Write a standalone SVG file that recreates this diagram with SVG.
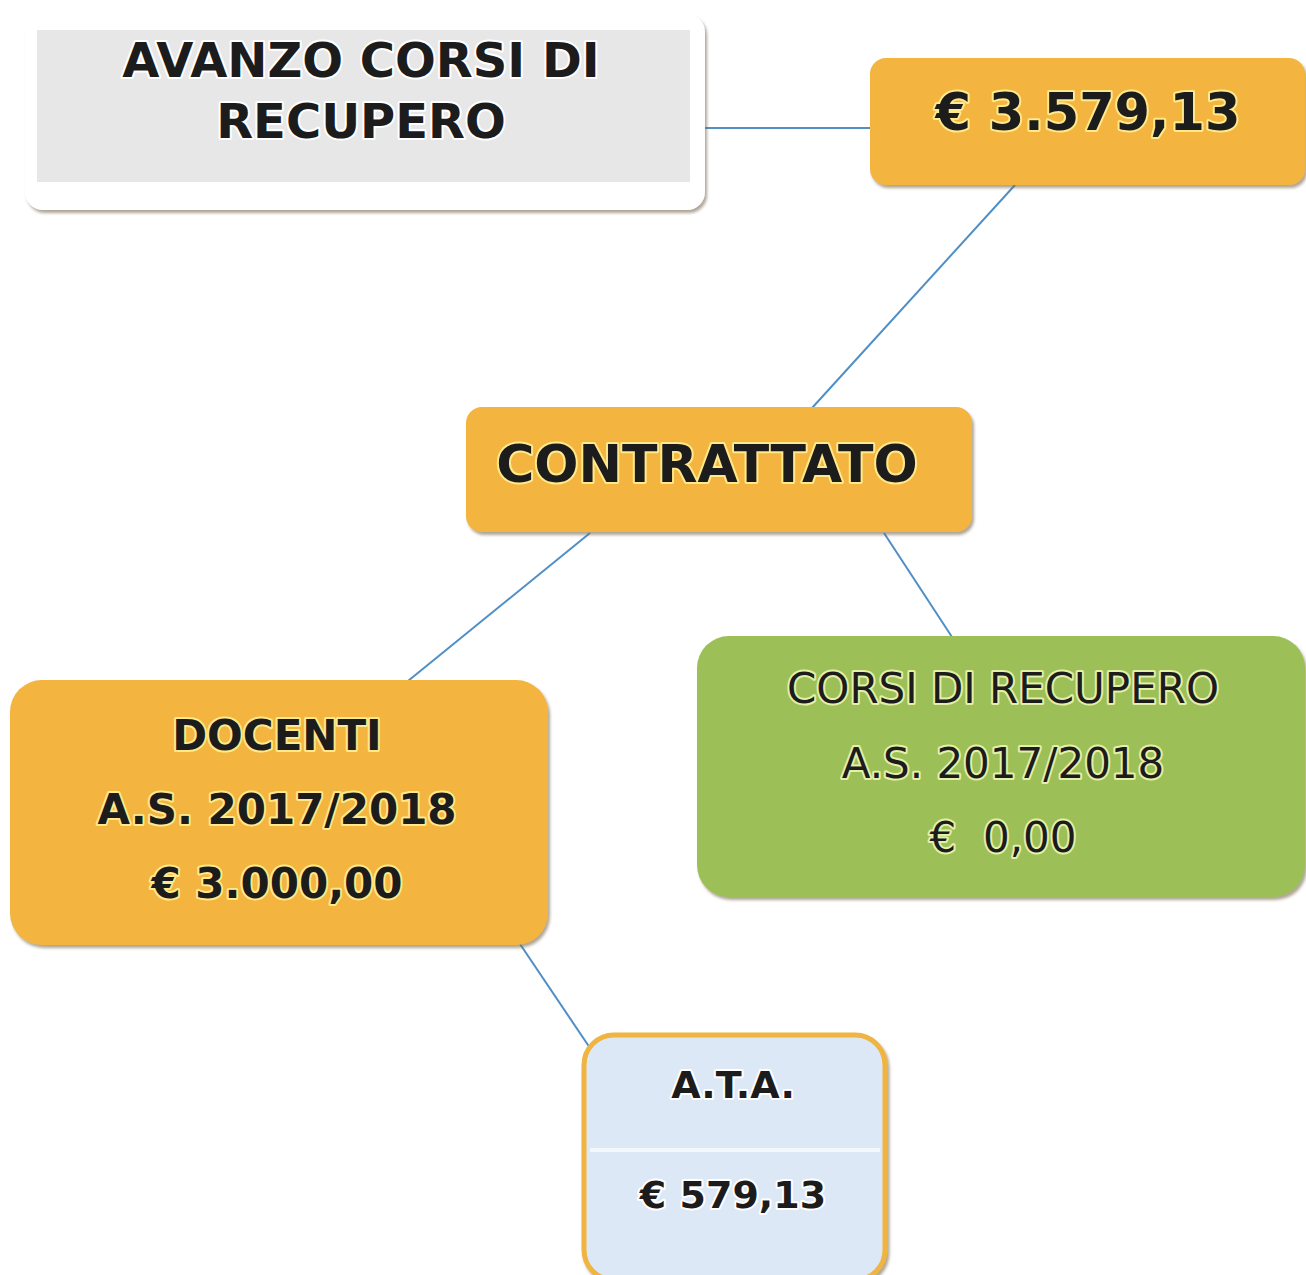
<svg xmlns="http://www.w3.org/2000/svg" width="1306" height="1275" viewBox="0 0 1306 1275">
<style>
.t{font-family:"DejaVu Sans","Verdana",sans-serif;font-weight:bold;fill:#1c1c1c;text-anchor:middle;paint-order:stroke;stroke-width:4;stroke-linejoin:round}
.y{stroke:#ffe98a}
.w{stroke:#ffffff}
.g{stroke:#e4f0a8;font-weight:normal}
.c{stroke:#4f8fc6;stroke-width:2;fill:none}
.o{fill:#f3b43f}
</style>
<defs>
<filter id="sh" x="-5%" y="-5%" width="110%" height="115%">
<feDropShadow dx="2" dy="3" stdDeviation="1.5" flood-color="#7a6a50" flood-opacity="0.6"/>
</filter>
</defs>
<rect width="1306" height="1275" fill="#ffffff"/>
<g id="connectors">
<line class="c" x1="705" y1="128" x2="872" y2="128"/>
<line class="c" x1="1015" y1="185" x2="812" y2="408"/>
<line class="c" x1="590" y1="533" x2="408" y2="681"/>
<line class="c" x1="884" y1="533" x2="952" y2="637"/>
<line class="c" x1="520" y1="944" x2="590" y2="1048"/>
</g>
<g id="avanzo">
<rect x="25" y="14" width="680" height="196" rx="18" fill="#ffffff" filter="url(#sh)"/>
<rect x="37" y="30" width="653" height="152" fill="#e7e7e7"/>
<text class="t w" x="361" y="77" font-size="48">AVANZO CORSI DI</text>
<text class="t w" x="361" y="138" font-size="48">RECUPERO</text>
</g>
<g id="totale">
<rect class="o" x="870" y="58" width="435" height="127" rx="16" filter="url(#sh)"/>
<text class="t y" x="1088" y="130" font-size="51">€ 3.579,13</text>
</g>
<g id="contrattato">
<rect class="o" x="466" y="407" width="506" height="125" rx="16" filter="url(#sh)"/>
<text class="t y" x="707" y="482" font-size="52">CONTRATTATO</text>
</g>
<g id="docenti">
<rect class="o" x="10" y="680" width="538" height="265" rx="32" filter="url(#sh)"/>
<text class="t y" x="277" y="750" font-size="42">DOCENTI</text>
<text class="t y" x="277" y="824" font-size="42">A.S. 2017/2018</text>
<text class="t y" x="277" y="898" font-size="42">€ 3.000,00</text>
</g>
<g id="corsi">
<rect x="697" y="636" width="608" height="261" rx="32" fill="#9cbf59" filter="url(#sh)"/>
<text class="t g" x="1003" y="703" font-size="42">CORSI DI RECUPERO</text>
<text class="t g" x="1003" y="778" font-size="42">A.S. 2017/2018</text>
<text class="t g" x="1003" y="852" font-size="42" xml:space="preserve">€  0,00</text>
</g>
<g id="ata">
<rect x="584" y="1035" width="301" height="245" rx="30" fill="#dce8f6" stroke="#f0b440" stroke-width="5" filter="url(#sh)"/>
<line x1="590" y1="1150" x2="880" y2="1150" stroke="#f4f8fd" stroke-width="4"/>
<text class="t w" x="733" y="1098" font-size="38">A.T.A.</text>
<text class="t w" x="733" y="1208" font-size="38">€ 579,13</text>
</g>
</svg>
